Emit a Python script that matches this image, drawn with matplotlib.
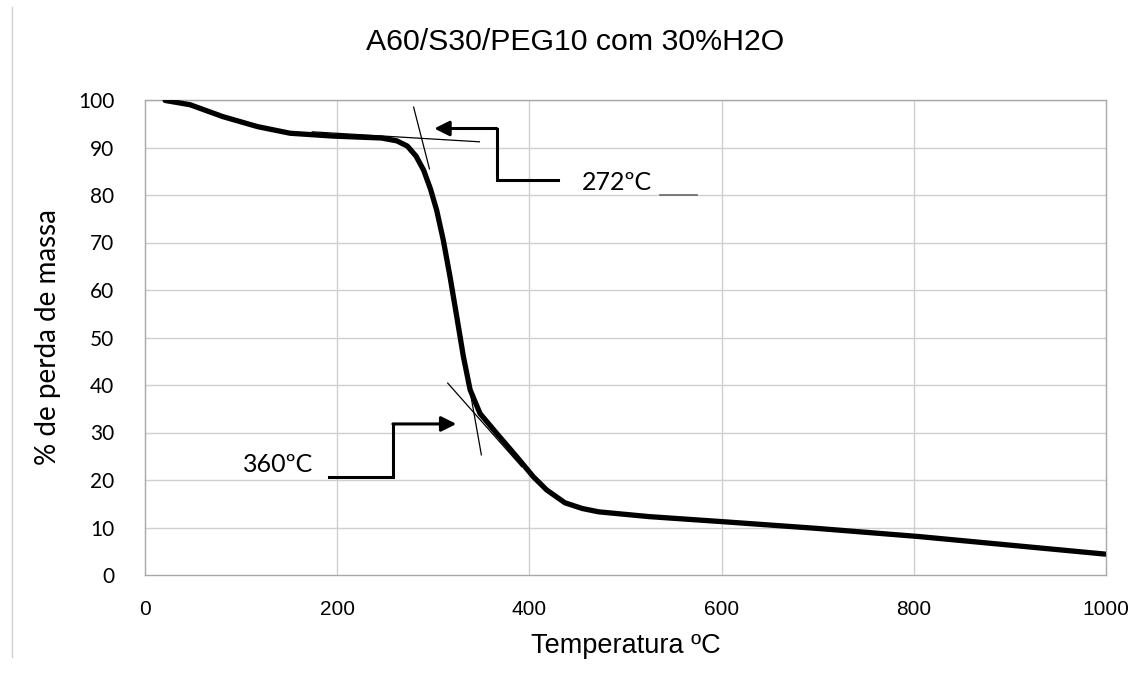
import matplotlib
matplotlib.use("Agg")
import matplotlib.pyplot as plt
from matplotlib.lines import Line2D

# ---- data ----
temperature = [21, 47, 81, 117, 151, 196, 246, 262, 273, 282, 290, 297, 303.5, 310.4,
               317.4, 324.4, 331.3, 338.3, 348.6, 366, 386.8, 404, 418, 437, 455, 472,
               524, 603, 700, 805, 999]
mass = [99.9, 99.0, 96.5, 94.4, 93.0, 92.4, 92.0, 91.4, 90.3, 88.2, 85.2, 81.3, 76.8, 70.5,
        62.8, 54.4, 46.0, 39.0, 34.0, 29.8, 24.9, 20.7, 17.9, 15.2, 14.0, 13.3,
        12.3, 11.2, 9.8, 8.1, 4.4]

x_ticks = [0, 200, 400, 600, 800, 1000]
y_ticks = [0, 10, 20, 30, 40, 50, 60, 70, 80, 90, 100]

title = "A60/S30/PEG10 com 30%H2O"
x_label = "Temperatura ºC"
y_label = "% de perda de massa"
onset_labels = ["272ºC", "360ºC"]

# tangent lines (x pairs, y pairs)
tangent_upper_flat = ([174, 348], [93.3, 91.2])
tangent_upper_steep = ([279.5, 296], [98.5, 85.5])
tangent_lower_steep = ([331, 350], [47, 25.3])
tangent_lower_flat = ([315, 392], [40.4, 22.8])

# annotation elbow paths (last point = arrow tip)
arrow_272 = ([430, 366, 366, 301], [83.2, 83.2, 94.0, 94.0])
arrow_360 = ([191, 258, 258, 324], [20.7, 20.7, 31.8, 31.8])

fig = plt.figure(figsize=(11.45, 6.84), dpi=100)
ax = fig.add_axes([145/1145, 1-575/684, (1106-145)/1145, (575-100)/684])

grid_c = "#cfcfcf"
for yv in y_ticks[1:]:
    ax.axhline(yv, color=grid_c, lw=1.0, zorder=0)
for xv in x_ticks[1:-1]:
    ax.axvline(xv, color=grid_c, lw=1.0, zorder=0)
# darker fragment of the 80 gridline next to the label (scan artefact)
ax.plot([536, 574], [80, 80], color="#666666", lw=1.2, zorder=1)

ax.plot(temperature, mass, color="black", lw=3.8, solid_capstyle="round",
        solid_joinstyle="round", zorder=3)

for tx, ty in (tangent_upper_flat, tangent_upper_steep, tangent_lower_steep, tangent_lower_flat):
    ax.plot(tx, ty, color="black", lw=0.9, zorder=4)

for px_, py_ in (arrow_272, arrow_360):
    ax.plot(px_[:-1], py_[:-1], color="black", lw=2.2, solid_joinstyle="miter", zorder=5)
    ax.annotate("", xy=(px_[-1], py_[-1]), xytext=(px_[-2], py_[-2]),
                arrowprops=dict(arrowstyle="-|>,head_length=0.9,head_width=0.45",
                                color="black", lw=2.2, shrinkA=0, shrinkB=0),
                zorder=5)

calibri_like = "Lato"
arial_like = "Liberation Sans"
ax.text(455, 82.7, onset_labels[0], fontsize=18, family=calibri_like, va="center", ha="left")
ax.text(139, 23.3, onset_labels[1], fontsize=18, family=calibri_like, va="center", ha="center")

ax.set_xlim(0, 1000)
ax.set_ylim(0, 100)
ax.set_xticks(x_ticks)
ax.set_yticks(y_ticks)
ax.tick_params(length=0)
ax.tick_params(axis="y", pad=22, labelsize=15)
ax.tick_params(axis="x", pad=18, labelsize=15)
for lab in ax.get_yticklabels():
    lab.set_family(calibri_like)
for lab in ax.get_xticklabels():
    lab.set_family(arial_like)

for s in ax.spines.values():
    s.set_color("#a8a8a8")
    s.set_linewidth(1.0)

ax.set_xlabel(x_label, fontsize=19.5, family=arial_like, labelpad=10)
ax.set_ylabel(y_label, fontsize=20, family=calibri_like, labelpad=12)
fig.text(575/1145, 1-42/684, title, fontsize=21.8, family=arial_like,
         ha="center", va="center")

fig.add_artist(Line2D([12/1145, 12/1145], [0.04, 0.99], color="#d0d0d0", lw=1.0))

fig.savefig("out.png", dpi=100)
